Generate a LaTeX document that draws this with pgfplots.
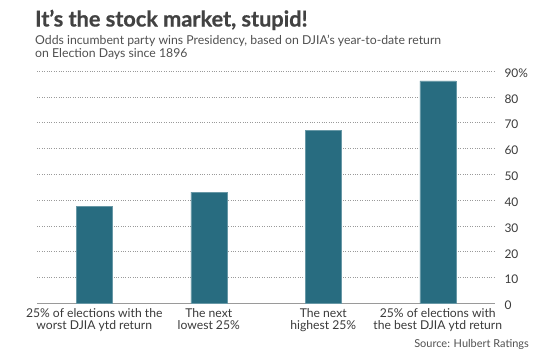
\documentclass[border=0pt]{standalone}
\usepackage{pgfplots}
\pgfplotsset{compat=1.18}
\usepackage{fontspec}
\setmainfont{Lato}
\newfontfamily\titlefont{Lato}[BoldFeatures={FakeBold=0.7}]
\definecolor{barc}{HTML}{286C80}
\definecolor{titlec}{HTML}{424242}
\definecolor{subc}{HTML}{505050}
\definecolor{labc}{HTML}{3A3A3A}
\definecolor{gridc}{HTML}{9A9A9A}
\begin{document}
\begin{tikzpicture}[x=1bp,y=1bp]
\path[use as bounding box] (0,0) rectangle (550,362);
\node[anchor=base west, inner sep=0, text=titlec, font=\titlefont\fontsize{21.8}{25}\selectfont\bfseries] at (35,335.5) {It’s the stock market, stupid!};
\node[anchor=base west, inner sep=0, text=subc, font=\fontsize{12.3}{15}\selectfont] at (35,318) {Odds incumbent party wins Presidency, based on DJIA’s year-to-date return};
\node[anchor=base west, inner sep=0, text=subc, font=\fontsize{12.3}{15}\selectfont] at (35,304.5) {on Election Days since 1896};
\begin{axis}[
  at={(37bp,58.6bp)}, anchor=south west,
  scale only axis, width=458bp, height=232.4bp,
  xmin=-0.5, xmax=3.5, ymin=0, ymax=90,
  ybar, bar width=36bp,
  axis x line*=bottom, axis y line*=right,
  x axis line style={draw=gridc, line width=0.8pt, -},
  y axis line style={draw=none},
  ymajorgrids, grid style={draw=gridc, dotted, line width=0.6pt},
  ytick={0,10,...,90},
  yticklabels={0,10,20,30,40,50,60,70,80,90\%},
  yticklabel style={anchor=west, xshift=6bp, yshift=-2bp, text=labc, font=\fontsize{12}{14}\selectfont},
  major tick length=0pt,
  xtick={0,1,2,3},
  xticklabels={25\% of elections with the\\worst DJIA ytd return, The next\\lowest 25\%, The next\\highest 25\%, 25\% of elections with\\the best DJIA ytd return},
  xticklabel style={align=center, anchor=north, inner sep=0pt, text=labc, font=\fontsize{12.2}{12.2}\selectfont, yshift=-4.5bp},
]
\addplot[fill=barc, draw=barc!70!white, line width=0.4pt] coordinates {(0,37.5) (1,43.1) (2,66.9) (3,86.2)};
\end{axis}
\node[anchor=base east, inner sep=0, text=subc, font=\fontsize{11}{13}\selectfont] at (529,14.5) {Source: Hulbert Ratings};
\end{tikzpicture}
\end{document}
